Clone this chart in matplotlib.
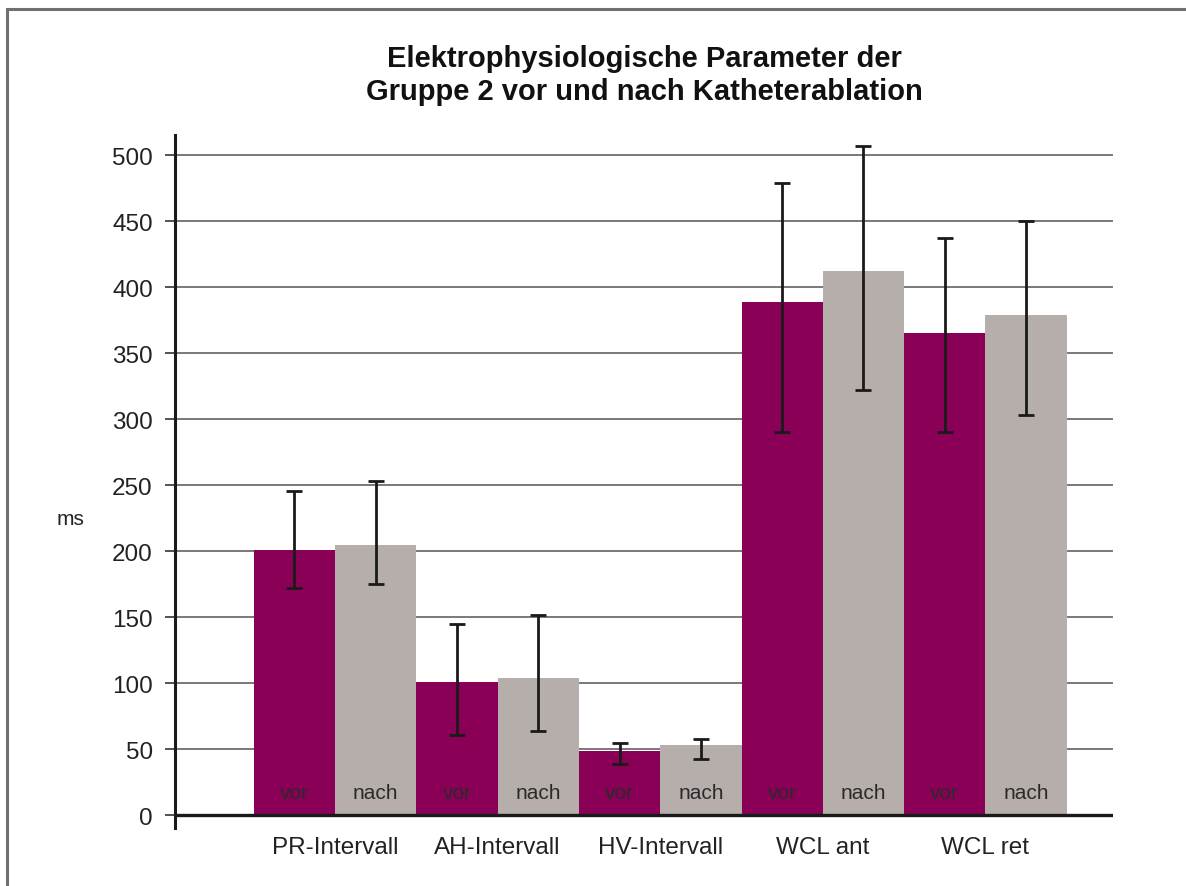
import matplotlib
matplotlib.use("Agg")
import matplotlib.pyplot as plt
from matplotlib.lines import Line2D
import numpy as np

plt.rcParams['font.family'] = ['Liberation Sans', 'DejaVu Sans']

# Parameters and measured means (ms) with lower/upper error limits
categories = ["PR-Intervall", "AH-Intervall", "HV-Intervall", "WCL ant", "WCL ret"]
vor_mean = [201, 101, 49, 389, 365]
vor_low = [172, 61, 39, 290, 290]
vor_high = [246, 145, 55, 479, 437]
nach_mean = [205, 104, 53, 412, 379]
nach_low = [175, 64, 43, 322, 303]
nach_high = [253, 152, 58, 507, 450]
yticks = [0, 50, 100, 150, 200, 250, 300, 350, 400, 450, 500]

col_vor = "#8B0057"
col_nach = "#B5AEAB"

fig = plt.figure(figsize=(11.86, 8.87), dpi=100)
ax = fig.add_axes([0.14755, 0.0656, 0.7909, 0.7813])

n = len(categories)
centers = np.arange(n) * 2 + 1.0
x_vor = centers - 0.5
x_nach = centers + 0.5

vm = np.array(vor_mean); nm = np.array(nach_mean)
vor_err = [vm - np.array(vor_low), np.array(vor_high) - vm]
nach_err = [nm - np.array(nach_low), np.array(nach_high) - nm]

ax.bar(x_vor, vm, width=1.0, color=col_vor, zorder=2)
ax.bar(x_nach, nm, width=1.0, color=col_nach, zorder=2)
ax.errorbar(x_vor, vm, yerr=vor_err, fmt='none', ecolor='#1a1a1a',
            elinewidth=2.0, capsize=5.5, capthick=2.0, zorder=3)
ax.errorbar(x_nach, nm, yerr=nach_err, fmt='none', ecolor='#1a1a1a',
            elinewidth=2.0, capsize=5.5, capthick=2.0, zorder=3)

for xv, xn in zip(x_vor, x_nach):
    ax.text(xv, 17, "vor", ha='center', va='center', fontsize=15,
            color='#2a2a2a', zorder=4)
    ax.text(xn, 17, "nach", ha='center', va='center', fontsize=15,
            color='#2a2a2a', zorder=4)

ax.set_xlim(-0.97, 10.57)
ax.set_ylim(-9.5, 515.5)
ax.set_yticks(yticks)
ax.set_yticklabels([str(t) for t in yticks], fontsize=17.5, color='#222222')
ax.yaxis.grid(True, color='#6e6e6e', linewidth=1.3, zorder=0)
ax.set_axisbelow(True)
ax.tick_params(axis='y', direction='out', length=7, width=1.2, pad=9,
               color='#333333')
ax.set_xticks(centers)
ax.set_xticklabels(categories, fontsize=17.5, color='#222222')
ax.tick_params(axis='x', length=0, pad=6)

for s in ['top', 'right', 'bottom']:
    ax.spines[s].set_visible(False)
ax.spines['left'].set_linewidth(2.2)
ax.spines['left'].set_color('#1a1a1a')
ax.axhline(0, color='#1a1a1a', linewidth=2.4, zorder=5)

fig.text(70 / 1186, 1 - 520 / 887, "ms", ha='center', va='center',
         fontsize=15, color='#222222')

ax.set_title("Elektrophysiologische Parameter der\nGruppe 2 vor und nach Katheterablation",
             fontsize=21, fontweight='bold', color='#111111', pad=26,
             linespacing=1.2)

# Outer frame: left and top edges
fig.add_artist(Line2D([7 / 1186, 7 / 1186], [0, 1 - 10 / 887],
                      transform=fig.transFigure, color='#707070', linewidth=2.2))
fig.add_artist(Line2D([7 / 1186, 1], [1 - 10 / 887, 1 - 10 / 887],
                      transform=fig.transFigure, color='#707070', linewidth=2.2))

fig.savefig("out.png", dpi=100, facecolor='white')
